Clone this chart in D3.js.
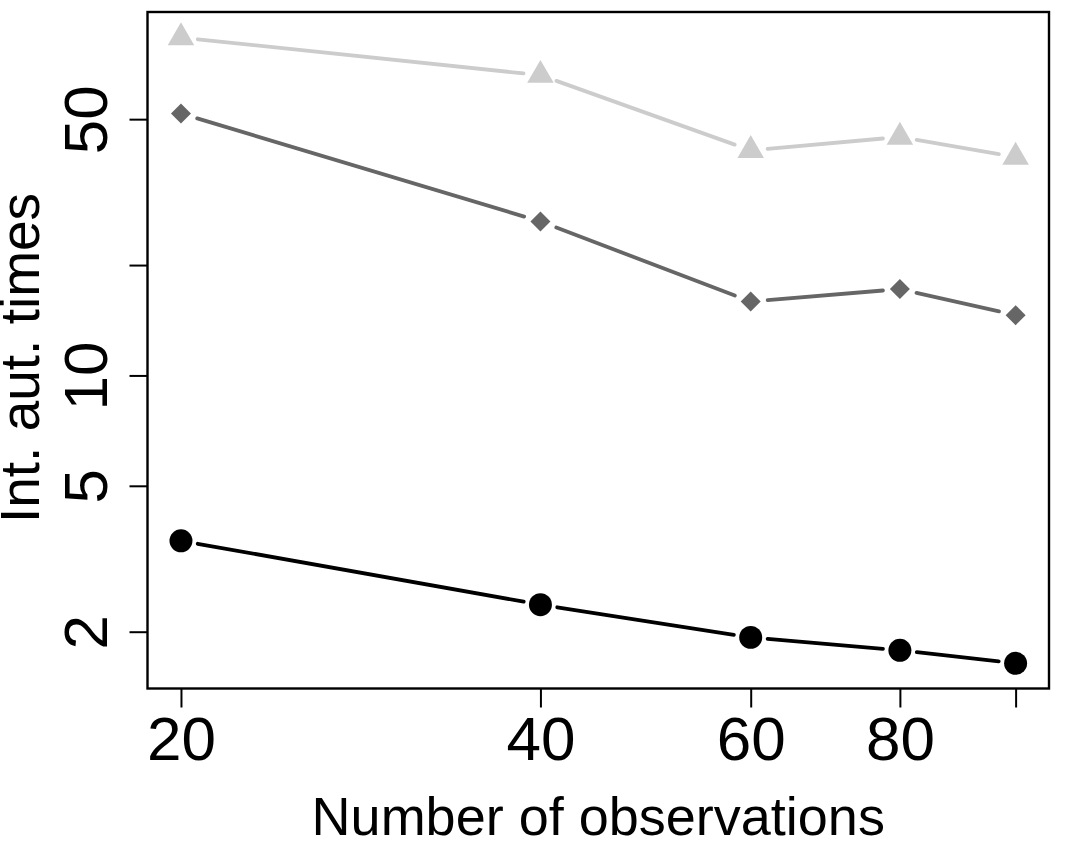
<!DOCTYPE html>
<html>
<head>
<meta charset="utf-8">
<script src="https://cdn.jsdelivr.net/npm/d3@7"></script>
<style>
  body { margin: 0; background: #fff; }
  svg { display: block; font-family: "Liberation Sans", Arial, sans-serif; }
</style>
</head>
<body>
<svg id="chart" width="1069" height="847"></svg>
<script>
// observations on x, integrated autocorrelation times on y (both log)
var observations = [20, 40, 60, 80, 100];
var seriesLight = [83.5, 65.9, 41.1, 44.7, 39.4];   // triangles
var seriesMid   = [51.8, 26.3, 15.9, 17.2, 14.6];   // diamonds
var seriesDark  = [3.54, 2.37, 1.93, 1.78, 1.64];   // circles

var xTicks = [20, 40, 60, 80, 100];
var xTickLabels = ["20", "40", "60", "80", ""];
var yTicks = [2, 5, 10, 20, 50];
var yTickLabels = ["2", "5", "10", "", "50"];

(function () {
  var pLeft = 147.5, pRight = 1049, pTop = 12, pBottom = 688.5;

  var svg = d3.select("#chart");

  var x = d3.scaleLog().domain([18.75, 106.65]).range([pLeft, pRight]);
  var y = d3.scaleLog().domain([1.40, 98]).range([pBottom, pTop]);

  var series = [
    {values: seriesLight, color: "#cccccc", shape: "triangle"},
    {values: seriesMid,   color: "#666666", shape: "diamond"},
    {values: seriesDark,  color: "#000000", shape: "circle"}
  ];

  var gap = 17; // R type="b" leaves a gap round each point

  series.forEach(function (s) {
    var pts = observations.map(function (o, i) { return [x(o), y(s.values[i])]; });
    for (var i = 0; i < pts.length - 1; i++) {
      var p = pts[i], q = pts[i + 1];
      var dx = q[0] - p[0], dy = q[1] - p[1];
      var len = Math.sqrt(dx * dx + dy * dy);
      if (len <= 2 * gap) continue;
      var ux = dx / len, uy = dy / len;
      svg.append("line")
        .attr("x1", p[0] + ux * gap).attr("y1", p[1] + uy * gap)
        .attr("x2", q[0] - ux * gap).attr("y2", q[1] - uy * gap)
        .attr("stroke", s.color)
        .attr("stroke-width", 3.8)
        .attr("stroke-linecap", "round");
    }

    var sym;
    if (s.shape === "triangle") sym = d3.symbol().type(d3.symbolTriangle).size(304);
    else if (s.shape === "diamond") sym = d3.symbol().type(d3.symbolSquare).size(200);
    else sym = d3.symbol().type(d3.symbolCircle).size(415);

    svg.append("g").selectAll("path")
      .data(pts)
      .enter().append("path")
      .attr("d", sym)
      .attr("transform", function (d) {
        return "translate(" + d[0] + "," + d[1] + ")" + (s.shape === "diamond" ? " rotate(45)" : "");
      })
      .attr("fill", s.color);
  });

  // box
  svg.append("rect")
    .attr("x", pLeft).attr("y", pTop)
    .attr("width", pRight - pLeft).attr("height", pBottom - pTop)
    .attr("fill", "none").attr("stroke", "#000").attr("stroke-width", 2.4);

  // x axis
  var xAxis = svg.append("g")
    .attr("transform", "translate(0," + pBottom + ")")
    .call(d3.axisBottom(x)
      .tickValues(xTicks)
      .tickFormat(function (d, i) { return xTickLabels[i]; })
      .tickSize(19)
      .tickSizeOuter(0));
  xAxis.select(".domain").remove();
  xAxis.selectAll(".tick line").attr("stroke", "#000").attr("stroke-width", 2);
  xAxis.selectAll(".tick text")
    .attr("y", 71.5).attr("dy", 0)
    .attr("fill", "#000")
    .style("font-size", "62px")
    .style("font-family", "'Liberation Sans', Arial, sans-serif");

  // y axis
  var yAxis = svg.append("g")
    .attr("transform", "translate(" + pLeft + ",0)")
    .call(d3.axisLeft(y)
      .tickValues(yTicks)
      .tickFormat(function (d, i) { return yTickLabels[i]; })
      .tickSize(18)
      .tickSizeOuter(0));
  yAxis.select(".domain").remove();
  yAxis.selectAll(".tick line").attr("stroke", "#000").attr("stroke-width", 2);
  yAxis.selectAll(".tick text")
    .attr("x", 0).attr("y", 0).attr("dy", 0)
    .attr("transform", "translate(-40.5,0) rotate(-90)")
    .attr("text-anchor", "middle")
    .attr("fill", "#000")
    .style("font-size", "62px")
    .style("font-family", "'Liberation Sans', Arial, sans-serif");

  // titles
  svg.append("text")
    .attr("x", (pLeft + pRight) / 2).attr("y", 835)
    .attr("text-anchor", "middle")
    .style("font-size", "54px")
    .text("Number of observations");

  svg.append("text")
    .attr("transform", "translate(39,358) rotate(-90)")
    .attr("text-anchor", "middle")
    .style("font-size", "55px")
    .text("Int. aut. times");
})();
</script>
</body>
</html>
